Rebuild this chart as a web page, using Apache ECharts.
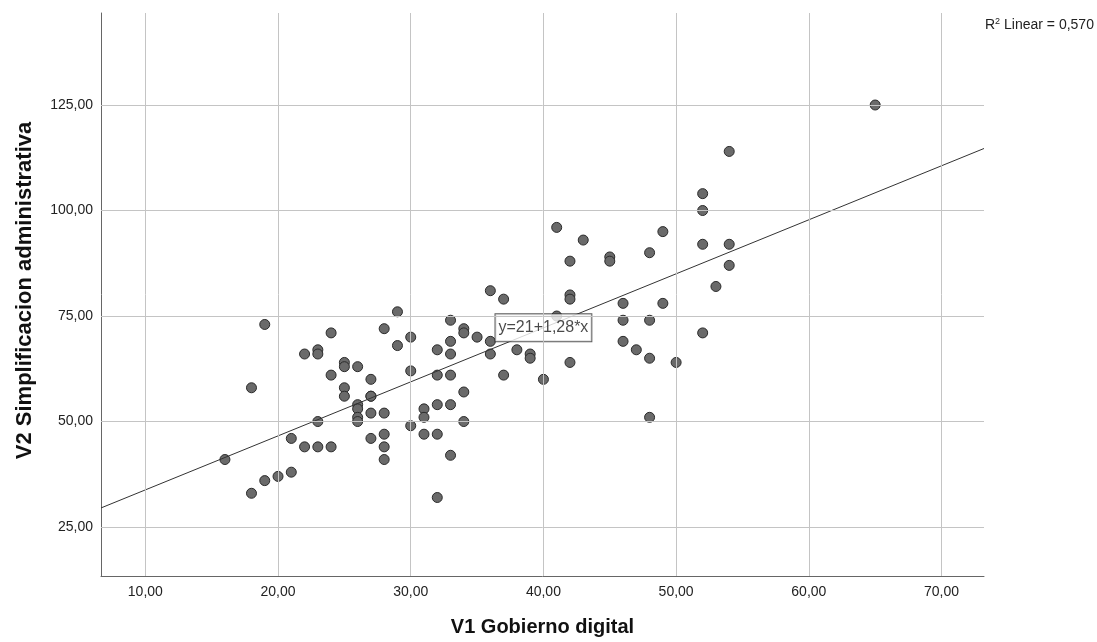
<!DOCTYPE html>
<html>
<head>
<meta charset="utf-8">
<script src="https://cdn.jsdelivr.net/npm/echarts@6/dist/echarts.min.js"></script>
<style>html,body{margin:0;padding:0;background:#fff;}#c{width:1097px;height:642px;}</style>
</head>
<body>
<div id="c"></div>
<script>
// V1 Gobierno digital (x) values
const v1 = [16,18,18,19,19,20,21,21,22,22,23,23,23,23,24,24,24,25,25,25,25,26,26,26,26,26,27,27,27,27,27,28,28,28,28,28,29,29,30,30,30,31,31,31,32,32,32,32,32,33,33,33,33,33,33,34,34,34,34,35,36,36,36,37,37,38,39,39,40,41,41,42,42,42,42,43,45,45,46,46,46,47,48,48,48,48,49,49,50,52,52,52,52,53,54,54,54,65];
// V2 Simplificacion administrativa (y) values
const v2 = [41,58,33,73,36,37,46,38,66,44,67,66,50,44,71,61,44,64,63,58,56,63,54,53,51,50,60,56,56,52,46,72,52,47,44,41,76,68,70,62,49,53,51,47,67,61,54,47,32,74,69,66,61,54,42,72,71,57,50,70,81,69,66,79,61,67,66,65,60,75,96,80,79,64,88,93,89,88,78,74,69,67,74,65,51,90,78,95,64,104,100,92,71,82,92,87,114,125];
const xTicks = [10,20,30,40,50,60,70];
const yTicks = [25,50,75,100,125];
const fitIntercept = 21;
const fitSlope = 1.28;
const fitLabel = 'y=21+1,28*x';
const fitLabelX = 40;
const r2Text = '0,570';

const xMin = 6.66, xMax = 73.2, yMin = 13.4, yMax = 146.8;
const FONT = "'Liberation Sans', Arial, sans-serif";
const fmt = v => v.toFixed(2).replace('.', ',');

const points = v1.map((x, i) => [x, v2[i]]);
const fitLine = [[xMin, fitIntercept + fitSlope * xMin], [xMax, fitIntercept + fitSlope * xMax]];

const grid = [];
xTicks.forEach(t => grid.push({ xAxis: t }));
yTicks.forEach(t => grid.push({ yAxis: t }));

const chart = echarts.init(document.getElementById('c'));
chart.setOption({
  animation: false,
  backgroundColor: '#fff',
  grid: { left: 101, right: 113, top: 13, bottom: 65 },
  xAxis: {
    type: 'value', min: xMin, max: xMax,
    name: 'V1 Gobierno digital', nameLocation: 'middle', nameGap: 41,
    nameTextStyle: { fontFamily: FONT, fontSize: 20, fontWeight: 'bold', color: '#111' },
    axisLine: { show: true, lineStyle: { color: '#666', width: 1 } },
    axisTick: { show: false },
    splitLine: { show: false },
    axisLabel: { customValues: xTicks, formatter: v => fmt(v), fontFamily: FONT, fontSize: 14, color: '#222', margin: 9 }
  },
  yAxis: {
    type: 'value', min: yMin, max: yMax,
    name: 'V2 Simplificacion administrativa', nameLocation: 'middle', nameGap: 65,
    nameTextStyle: { fontFamily: FONT, fontSize: 22, fontWeight: 'bold', color: '#111', padding: [0, 0, 0, 8] },
    axisLine: { show: true, lineStyle: { color: '#666', width: 1 } },
    axisTick: { show: false },
    splitLine: { show: false },
    axisLabel: { customValues: yTicks, formatter: v => fmt(v), fontFamily: FONT, fontSize: 14, color: '#222', margin: 8 }
  },
  series: [
    {
      type: 'scatter', data: [], z: 1, silent: true,
      markLine: {
        silent: true, symbol: ['none', 'none'], label: { show: false },
        lineStyle: { color: '#c4c4c4', type: 'solid', width: 1 },
        data: grid
      }
    },
    {
      type: 'scatter', data: points, z: 2, symbol: 'circle', symbolSize: 10,
      itemStyle: { color: '#6a6a6a', borderColor: '#2b2b2b', borderWidth: 1, opacity: 1 }
    },
    {
      type: 'line', data: fitLine, z: 3, symbol: 'none',
      lineStyle: { color: '#333', width: 1 }
    },
    {
      type: 'scatter', z: 4, data: [[fitLabelX, fitIntercept + fitSlope * fitLabelX]],
      symbolSize: 1, itemStyle: { color: 'rgba(0,0,0,0)' },
      label: {
        show: true, position: 'inside', formatter: fitLabel,
        fontFamily: FONT, fontSize: 16, color: '#1a1a1a',
        backgroundColor: '#fff', borderColor: '#333', borderWidth: 1, padding: [6, 3, 5, 3]
      }
    }
  ],
  graphic: [{
    type: 'text', left: 985, top: 17,
    style: {
      text: '{s|R}{u|2}{s| Linear = ' + r2Text + '}',
      rich: {
        s: { fontFamily: FONT, fontSize: 14, fill: '#222' },
        u: { fontFamily: FONT, fontSize: 9, fill: '#222', padding: [0, 0, 8, 0] }
      }
    }
  }]
});
</script>
</body>
</html>
